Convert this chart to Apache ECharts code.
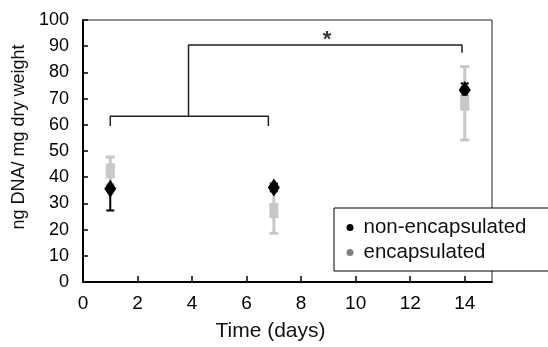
<!DOCTYPE html>
<html><head><meta charset="utf-8">
<script src="https://cdn.jsdelivr.net/npm/echarts@6/dist/echarts.min.js"></script>
<style>html,body{margin:0;padding:0;background:#fff}#c{width:548px;height:347px}</style>
</head><body><div id="c"></div>
<script>
// ---- data ----
const days = [1, 7, 14];
const nonEncMean = [35.6, 36.1, 73.3];
const nonEncErr = [8.3, 1.5, 2.5];
const encMean = [42.4, 27.3, 68.2];
const encErr = [5.3, 8.7, 14.0];
const seriesNames = ['non-encapsulated', 'encapsulated'];
const xTickStep = 2, xMax = 15, yTickStep = 10, yMax = 100;
// significance bracket (data units)
const bracketLow = [[1, 59.5], [1, 63.3], [6.8, 63.3], [6.8, 59.5]];
const bracketHigh = [[3.87, 63.3], [3.87, 90.5], [13.9, 90.5], [13.9, 87.5]];
const starPos = [8.95, 92.5];
const starText = '*';

const FONT = '"Liberation Sans", Arial, Helvetica, sans-serif';

function errData(mean, err) {
  return days.map((d, i) => [d, mean[i] - err[i], mean[i] + err[i]]);
}
function errRender(color, width, cap) {
  return function (params, api) {
    const x = api.value(0);
    const lo = api.coord([x, api.value(1)]);
    const hi = api.coord([x, api.value(2)]);
    const st = { stroke: color, lineWidth: width };
    return {
      type: 'group',
      children: [
        { type: 'line', shape: { x1: lo[0], y1: lo[1], x2: hi[0], y2: hi[1] }, style: st },
        { type: 'line', shape: { x1: lo[0] - cap / 2, y1: lo[1], x2: lo[0] + cap / 2, y2: lo[1] }, style: st },
        { type: 'line', shape: { x1: hi[0] - cap / 2, y1: hi[1], x2: hi[0] + cap / 2, y2: hi[1] }, style: st }
      ]
    };
  };
}

const chart = echarts.init(document.getElementById('c'), null, { renderer: 'canvas' });
chart.setOption({
  animation: false,
  textStyle: { fontFamily: FONT },
  grid: { left: 83, right: 56, top: 20, bottom: 63, show: true, borderColor: '#222', borderWidth: 1, backgroundColor: 'transparent' },
  xAxis: {
    type: 'value', min: 0, max: xMax, interval: xTickStep,
    axisLine: { show: true, onZero: false, lineStyle: { color: '#000', width: 2 } },
    axisTick: { show: true, inside: true, length: 6, lineStyle: { color: '#000', width: 1.5 } },
    axisLabel: { color: '#000', fontSize: 19, fontFamily: FONT, margin: 12, showMaxLabel: false },
    splitLine: { show: false },
    name: 'Time (days)', nameLocation: 'middle', nameGap: 39,
    nameTextStyle: { color: '#111', fontSize: 21, fontFamily: FONT, padding: [0, 34, 0, 0] }
  },
  yAxis: {
    type: 'value', min: 0, max: yMax, interval: yTickStep,
    axisLine: { show: true, lineStyle: { color: '#000', width: 2 } },
    axisTick: { show: true, inside: true, length: 5, lineStyle: { color: '#000', width: 1.5 } },
    axisLabel: { color: '#000', fontSize: 18, fontFamily: FONT, margin: 14 },
    splitLine: { show: false },
    name: 'ng DNA/ mg dry weight', nameLocation: 'middle', nameGap: 55,
    nameTextStyle: { color: '#111', fontSize: 18, fontFamily: FONT, padding: [0, 0, 0, 28] }
  },
  legend: {
    left: 334, top: 208, orient: 'vertical',
    backgroundColor: '#fff', borderColor: '#000', borderWidth: 1,
    padding: [9, 60, 8, 12.5], itemGap: 4, itemWidth: 17, itemHeight: 7,
    textStyle: { fontSize: 20.5, color: '#111', fontFamily: FONT },
    data: [
      { name: seriesNames[0], icon: 'circle', itemStyle: { color: '#000', opacity: 1 } },
      { name: seriesNames[1], icon: 'circle', itemStyle: { color: '#7f7f7f', opacity: 1 } }
    ],
    z: 20
  },
  series: [
    { type: 'line', data: bracketLow, symbol: 'none', silent: true, z: 1,
      lineStyle: { color: '#222', width: 1.5 } },
    { type: 'line', data: bracketHigh, symbol: 'none', silent: true, z: 1,
      lineStyle: { color: '#222', width: 1.5 } },
    { type: 'scatter', data: [starPos], symbolSize: 1, silent: true, z: 1,
      itemStyle: { color: 'rgba(0,0,0,0)' },
      label: { show: true, formatter: starText, position: 'inside', color: '#000', fontSize: 22, fontWeight: 'bold', fontFamily: FONT } },
    { name: seriesNames[0], type: 'custom', data: errData(nonEncMean, nonEncErr), z: 2,
      encode: { x: 0, y: [1, 2] }, renderItem: errRender('#000', 2, 8) },
    { name: seriesNames[1], type: 'custom', data: errData(encMean, encErr), z: 3,
      encode: { x: 0, y: [1, 2] }, renderItem: errRender('#c8c8c8', 3, 9) },
    { name: seriesNames[0], type: 'scatter', z: 4, symbol: 'diamond', symbolSize: [12, 18],
      itemStyle: { color: '#000', opacity: 1 }, data: days.map((d, i) => [d, nonEncMean[i]]) },
    { name: seriesNames[1], type: 'scatter', z: 5, symbol: 'rect', symbolSize: [9, 15],
      itemStyle: { color: '#c8c8c8', opacity: 1 }, data: days.map((d, i) => [d, encMean[i]]) }
  ]
});
</script></body></html>
